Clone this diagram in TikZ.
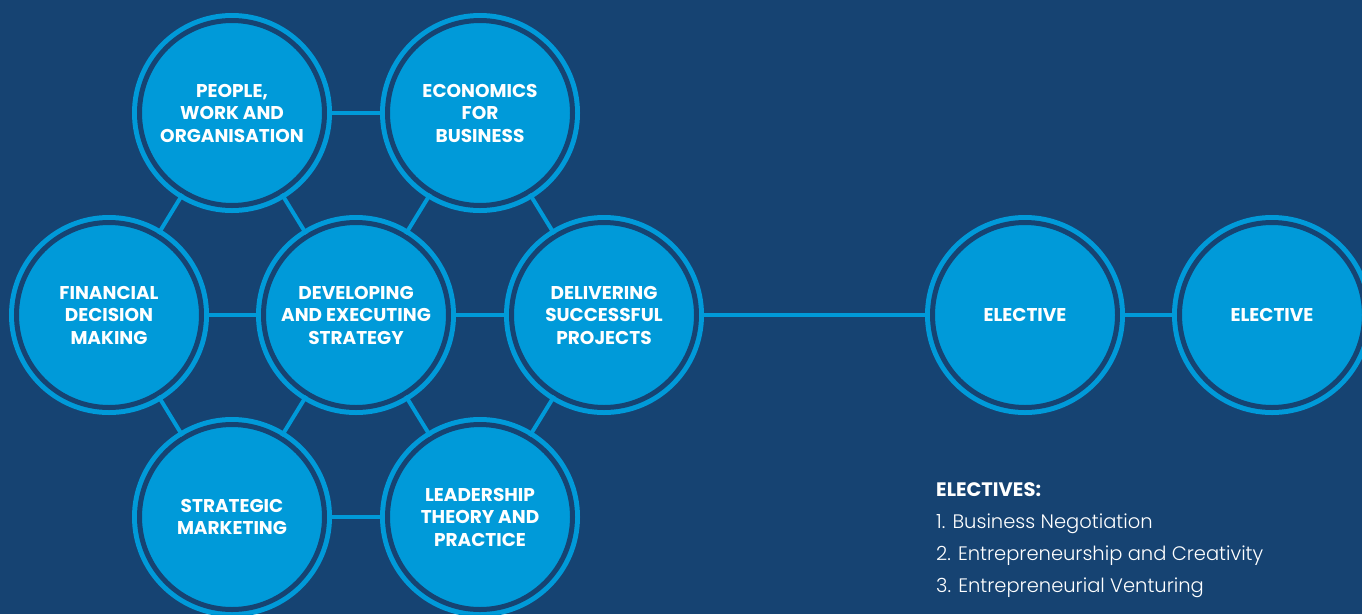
\documentclass[tikz,border=0pt]{standalone}
\usepackage{fontspec}
\setmainfont{Poppins}
\newfontfamily\lightfont{Poppins}[UprightFont={* Light}, BoldFont={* Bold}]
\definecolor{navy}{HTML}{164372}
\definecolor{lblue}{HTML}{009AD9}

\begin{document}
\begin{tikzpicture}[
		x=1pt, y=-1pt,
		module/.style={circle, fill=lblue, draw=lblue, double=navy, double distance=5pt,
			line width=5pt, minimum size=185pt, inner sep=0pt, text=white, align=center,
			font=\fontsize{18.5}{22.5}\selectfont\bfseries},
		link/.style={draw=lblue, line width=4pt}
	]
  \useasboundingbox (0,0) rectangle (1362,614);
  \fill[navy] (0,0) rectangle (1362,614);
  % hexagon of modules
  \node (strategy) [module] at (356,315) {DEVELOPING\\AND EXECUTING\\STRATEGY};
  \node (finance) [module] at (109,315) {FINANCIAL\\DECISION\\MAKING};
  \node (projects) [module] at (604,315) {DELIVERING\\SUCCESSFUL\\PROJECTS};
  \node (people) [module] at (232,113) {PEOPLE,\\WORK AND\\ORGANISATION};
  \node (economics) [module] at (480,113) {ECONOMICS\\FOR\\BUSINESS};
  \node (marketing) [module] at (232,517) {STRATEGIC\\MARKETING};
  \node (leadership) [module] at (480,517) {LEADERSHIP\\THEORY AND\\PRACTICE};
  % electives
  \node (elective_a) [module] at (1025,315) {ELECTIVE};
  \node (elective_b) [module] at (1272,315) {ELECTIVE};
  \draw[link] (people) -- (economics);
  \draw[link] (people) -- (finance);
  \draw[link] (people) -- (strategy);
  \draw[link] (economics) -- (strategy);
  \draw[link] (economics) -- (projects);
  \draw[link] (finance) -- (strategy);
  \draw[link] (strategy) -- (projects);
  \draw[link] (finance) -- (marketing);
  \draw[link] (strategy) -- (marketing);
  \draw[link] (strategy) -- (leadership);
  \draw[link] (projects) -- (leadership);
  \draw[link] (marketing) -- (leadership);
  \draw[link] (projects) -- (elective_a);
  \draw[link] (elective_a) -- (elective_b);
  \node (list) [anchor=base west, text=white, align=left, inner sep=0pt,
    font=\lightfont\fontsize{19.5}{31.7}\selectfont] at (936,592)
    {{\bfseries ELECTIVES:}\\1. Business Negotiation\\2. Entrepreneurship and Creativity\\3. Entrepreneurial Venturing};
\end{tikzpicture}
\end{document}
